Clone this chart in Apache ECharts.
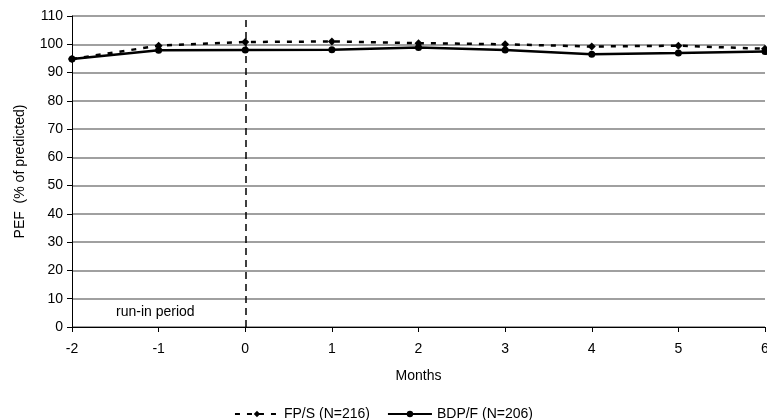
<!DOCTYPE html>
<html>
<head>
<meta charset="utf-8">
<script src="https://cdn.jsdelivr.net/npm/echarts@6/dist/echarts.min.js"></script>
<style>
  html, body { margin: 0; padding: 0; background: #fff; }
  #chart { width: 767px; height: 420px; }
</style>
</head>
<body>
<div id="chart"></div>
<script>
// months from start of treatment (run-in is -2..0)
const months = [-2, -1, 0, 1, 2, 3, 4, 5, 6]
const fpsValues = [94.8, 99.5, 100.8, 101.0, 100.4, 100.0, 99.2, 99.5, 98.4]
const bdpfValues = [94.8, 97.9, 98.0, 98.1, 98.9, 98.0, 96.5, 96.9, 97.4]
const yTicks = [0, 10, 20, 30, 40, 50, 60, 70, 80, 90, 100, 110]

const toPairs = (xs, ys) => xs.map((x, i) => [x, ys[i]])

const myChart = echarts.init(document.getElementById('chart'), null, { renderer: 'canvas' })

const font = 'Liberation Sans, Arial, sans-serif'

const option = {
  animation: false,
  textStyle: { fontFamily: font },
  grid: { left: 72, right: 2, top: 16, bottom: 93, containLabel: false, outerBoundsMode: 'none' },
  legend: {
    top: 402,
    left: 'center',
    itemWidth: 44,
    itemHeight: 8,
    itemGap: 17,
    textStyle: { color: '#000', fontSize: 14, fontFamily: font },
    data: ['FP/S (N=216)', 'BDP/F (N=206)']
  },
  xAxis: {
    type: 'value',
    min: -2,
    max: 6,
    interval: 1,
    name: 'Months',
    nameLocation: 'middle',
    nameGap: 42,
    nameTextStyle: { color: '#000', fontSize: 14, fontFamily: font },
    axisLine: { onZero: false, lineStyle: { color: '#000', width: 1 } },
    axisTick: { show: true, length: 5, lineStyle: { color: '#000' } },
    axisLabel: { color: '#000', fontSize: 14, margin: 15, showMaxLabel: true },
    splitLine: { show: false }
  },
  yAxis: {
    type: 'value',
    min: yTicks[0],
    max: yTicks[yTicks.length - 1],
    interval: 10,
    name: 'PEF  (% of predicted)',
    nameLocation: 'middle',
    nameGap: 45,
    nameTextStyle: { color: '#000', fontSize: 14, fontFamily: font },
    axisLine: { show: true, onZero: false, lineStyle: { color: '#000', width: 1 } },
    axisTick: { show: true, length: 5, lineStyle: { color: '#000' } },
    axisLabel: { color: '#000', fontSize: 14, margin: 9 },
    splitLine: { show: true, lineStyle: { color: '#808080', width: 1.5 } }
  },
  graphic: [
    {
      type: 'text',
      left: 116,
      top: 305,
      style: { text: 'run-in period', fill: '#000', font: '14px ' + font }
    }
  ],
  series: [
    {
      name: 'FP/S (N=216)',
      type: 'line',
      data: toPairs(months, fpsValues),
      symbol: 'diamond',
      symbolSize: 8,
      lineStyle: { color: '#000', width: 2.5, type: [5, 7] },
      itemStyle: { color: '#000' },
      z: 3,
      markLine: {
        silent: true,
        symbol: 'none',
        label: { show: false },
        lineStyle: { color: '#000', width: 1.5, type: [7, 5] },
        data: [{ xAxis: 0 }]
      }
    },
    {
      name: 'BDP/F (N=206)',
      type: 'line',
      data: toPairs(months, bdpfValues),
      symbol: 'circle',
      symbolSize: 7,
      lineStyle: { color: '#000', width: 2.5 },
      itemStyle: { color: '#000' },
      z: 4
    }
  ]
}

option && myChart.setOption(option)
</script>
</body>
</html>
